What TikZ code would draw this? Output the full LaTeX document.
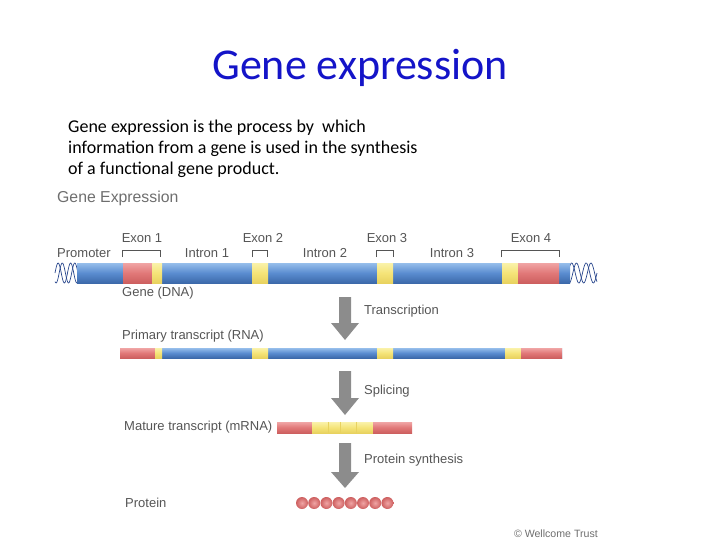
\documentclass[tikz,border=0pt]{standalone}
\usepackage{fontspec}
\setmainfont{Carlito}
\newfontfamily\arialf{Liberation Sans}
\definecolor{titleblue}{RGB}{20,20,200}
\definecolor{lblgray}{RGB}{85,85,85}
\definecolor{hdrgray}{RGB}{110,110,110}
\definecolor{bluemid}{RGB}{90,140,208}
\definecolor{bluetop}{RGB}{150,190,235}
\definecolor{bluebot}{RGB}{60,105,170}
\definecolor{redmid}{RGB}{225,120,120}
\definecolor{redtop}{RGB}{240,165,165}
\definecolor{redbot}{RGB}{205,95,95}
\definecolor{yelmid}{RGB}{245,228,120}
\definecolor{yeltop}{RGB}{250,242,170}
\definecolor{yelbot}{RGB}{232,210,95}
\definecolor{arrowgray}{RGB}{140,140,140}
\definecolor{helix}{RGB}{40,70,140}
\tikzset{
  bluebar/.style={top color=bluetop,bottom color=bluebot,middle color=bluemid},
  redbar/.style={top color=redtop,bottom color=redbot,middle color=redmid},
  yelbar/.style={top color=yeltop,bottom color=yelbot,middle color=yelmid},
  lbl/.style={font=\arialf\fontsize{13}{15}\selectfont,text=lblgray,inner sep=0pt,anchor=west},
  clbl/.style={font=\arialf\fontsize{13}{15}\selectfont,text=lblgray,inner sep=0pt},
  paraline/.style={anchor=base west,inner sep=0pt,font=\fontsize{18}{21}\selectfont},
  brk/.style={draw=lblgray,line width=0.7pt},
  procarrow/.style={fill=arrowgray,draw=none},
  bead/.style={shading=radial,inner color=redtop,outer color=redbot,circle,minimum size=12pt,inner sep=0pt}
}
\begin{document}
\begin{tikzpicture}[x=1pt,y=-1pt]
\useasboundingbox (0,0) rectangle (720,540);
% title and text
\node[text=titleblue,font=\fontsize{44}{48}\selectfont,inner sep=0pt] (title) at (360,68) {Gene expression};
\node[paraline] (p1) at (68,133) {Gene expression is the process by\ \ which};
\node[paraline] (p2) at (68,154) {information from a gene is used in the synthesis};
\node[paraline] (p3) at (68,175) {of a functional gene product.};
% header
\node[anchor=west,inner sep=0pt,font=\arialf\fontsize{15.8}{18}\selectfont,text=hdrgray] (hdr) at (57,198) {Gene Expression};
% DNA helices
\foreach \xs/\xe in {55/80,568/597}{
  \draw[helix,line width=0.7pt,domain=0:1,samples=40,smooth] plot ({\xs+(\xe-\xs)*\x},{273-10*sin(\x*720)});
  \draw[helix,line width=0.7pt,domain=0:1,samples=40,smooth] plot ({\xs+(\xe-\xs)*\x},{273+10*sin(\x*720+60)});
}
% DNA bar
\shade[bluebar] (77,263) rectangle (570,283);
\shade[redbar] (123,263) rectangle (152,283);
\shade[yelbar] (152,263) rectangle (162,283);
\shade[yelbar] (252,263) rectangle (268,283);
\shade[yelbar] (377,263) rectangle (393,283);
\shade[yelbar] (502,263) rectangle (518,283);
\shade[redbar] (518,263) rectangle (559,283);
% brackets
\draw[brk] (122,257) -- (122,250) -- (160,250) -- (160,257);
\draw[brk] (252,257) -- (252,250) -- (267,250) -- (267,257);
\draw[brk] (376,257) -- (376,250) -- (393,250) -- (393,257);
\draw[brk] (501,257) -- (501,250) -- (559,250) -- (559,257);
% DNA labels
\node[clbl] (ex1) at (142,238) {Exon 1};
\node[clbl] (ex2) at (263,238) {Exon 2};
\node[clbl] (ex3) at (387,238) {Exon 3};
\node[clbl] (ex4) at (531,238) {Exon 4};
\node[lbl] (prom) at (57,253) {Promoter};
\node[clbl] (in1) at (207,253) {Intron 1};
\node[clbl] (in2) at (325,253) {Intron 2};
\node[clbl] (in3) at (452,253) {Intron 3};
\node[lbl] (gene) at (122,293) {Gene (DNA)};
% arrow 1
\fill[procarrow] (339,297) -- (351,297) -- (351,323) -- (359,323) -- (345,340) -- (331,323) -- (339,323) -- cycle;
\node[lbl] (tr) at (364,311) {Transcription};
\node[lbl] (prim) at (122,336) {Primary transcript (RNA)};
% RNA bar
\shade[bluebar] (120,348) rectangle (562,358);
\shade[redbar] (120,348) rectangle (155,358);
\shade[yelbar] (155,348) rectangle (162,358);
\shade[yelbar] (252,348) rectangle (268,358);
\shade[yelbar] (377,348) rectangle (393,358);
\shade[yelbar] (505,348) rectangle (521,358);
\shade[redbar] (521,348) rectangle (562,358);
% arrow 2
\fill[procarrow] (339,371) -- (351,371) -- (351,398) -- (359,398) -- (345,415) -- (331,398) -- (339,398) -- cycle;
\node[lbl] (spl) at (364,391) {Splicing};
\node[lbl] (mat) at (124,427) {Mature transcript (mRNA)};
% mRNA bar
\shade[redbar] (277,422) rectangle (312,433);
\shade[yelbar] (312,422) rectangle (373,433);
\shade[redbar] (373,422) rectangle (412,433);
\draw[yelbot,line width=0.5pt] (328,422) -- (328,433) (340,422) -- (340,433) (356,422) -- (356,433);
% arrow 3
\fill[procarrow] (339,443) -- (351,443) -- (351,472) -- (359,472) -- (345,488) -- (331,472) -- (339,472) -- cycle;
\node[lbl] (ps) at (364,460) {Protein synthesis};
\node[lbl] (prot) at (125,503) {Protein};
% protein beads
\foreach \i in {0,...,7}{
  \node[bead] (b\i) at (302+12.2*\i,503) {};
}
\node[anchor=east,inner sep=0pt,font=\arialf\fontsize{10.6}{12}\selectfont,text=hdrgray] (wt) at (598,534) {\textcopyright\ Wellcome Trust};
\end{tikzpicture}
\end{document}
